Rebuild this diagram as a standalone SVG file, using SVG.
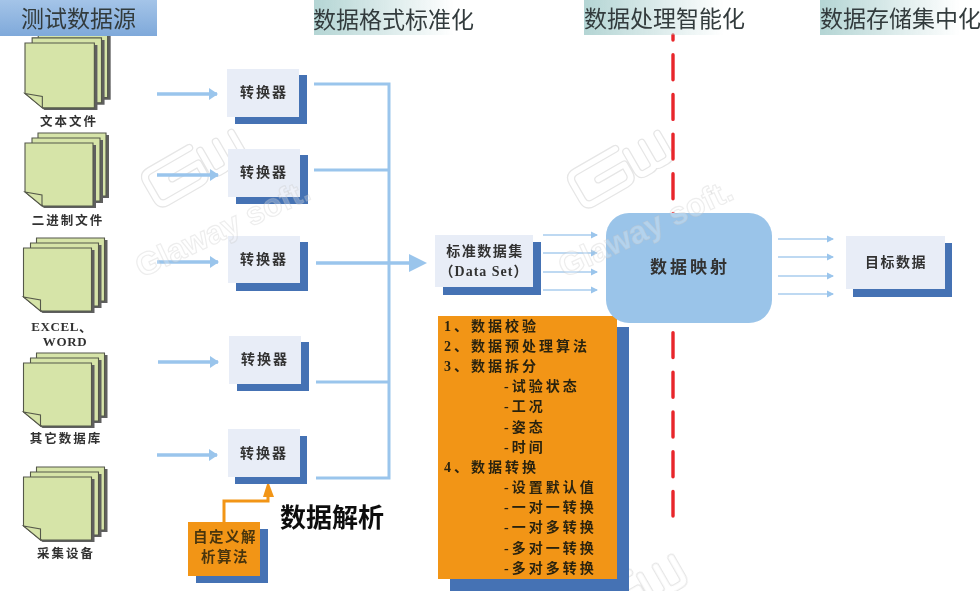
<svg xmlns="http://www.w3.org/2000/svg" xmlns:xlink="http://www.w3.org/1999/xlink" width="980" height="591" viewBox="0 0 980 591">
<style>
text{font-family:"Liberation Serif","Noto Sans CJK SC",sans-serif;dominant-baseline:central;}
.hd{font-family:"Noto Sans CJK SC",sans-serif;font-size:23px;fill:#333b3c;}
.lb{font-size:12.5px;font-weight:700;fill:#333;text-anchor:middle;letter-spacing:2px;}
.cv{font-size:14px;font-weight:700;fill:#333;text-anchor:middle;letter-spacing:2px;}
.ol{font-size:14px;font-weight:700;fill:#2b2411;letter-spacing:3px;}
.sh{fill:#4472B4;}
.lt{fill:#E8EDF7;}
.or{fill:#F29516;}
.bus{fill:none;stroke:#9AC5EC;stroke-width:3;}
.thick{fill:none;stroke:#9AC5EC;stroke-width:3.5;marker-end:url(#ah);}
.thin{fill:none;stroke:#A9CDEE;stroke-width:1.4;marker-end:url(#at);}
.wm{font-family:"Liberation Sans",sans-serif;font-weight:700;font-size:32px;fill:#fff;fill-opacity:.25;stroke:#c4c4c4;stroke-opacity:.3;stroke-width:1.2;}
.sheet{fill:#D6E4A8;stroke:#55584a;stroke-width:1.1;}
.drop{fill:#5f5f5f;}
.fold{fill:#D6E4A8;stroke:#55584a;stroke-width:1.1;}
.lo{fill:none;stroke:#e6e6e6;stroke-width:8;stroke-linejoin:round;stroke-linecap:round;}
.li{fill:none;stroke:#fff;stroke-width:5.500;stroke-linejoin:round;stroke-linecap:round;}
</style>
<defs>
<filter id="soft" x="0" y="0" width="100%" height="100%"><feGaussianBlur stdDeviation="0.45"/></filter>
<linearGradient id="gb" x1="0" y1="0" x2="0" y2="1"><stop offset="0" stop-color="#A4C4E8"/><stop offset="1" stop-color="#7FA9DA"/></linearGradient>
<linearGradient id="gt" x1="0" y1="0" x2="1" y2="0"><stop offset="0" stop-color="#B4D5D4"/><stop offset="1" stop-color="#B4D5D4" stop-opacity="0"/></linearGradient>
<marker id="ah" markerUnits="userSpaceOnUse" markerWidth="10" markerHeight="14" refX="8" refY="6" orient="auto" overflow="visible"><path d="M0 0L9 6L0 12Z" fill="#9AC5EC"/></marker>
<marker id="at" markerUnits="userSpaceOnUse" markerWidth="9" markerHeight="10" refX="6" refY="3.500" orient="auto" overflow="visible"><path d="M0 0L7 3.500L0 7Z" fill="#9AC5EC"/></marker>
<path id="mark" d="M58 -36H12Q4 -36 4 -28V-8Q4 0 12 0H50Q58 0 58 -8V-18H28M66 -28V-6Q66 0 72 0H78Q84 0 84 -6V-28M84 -6Q84 0 90 0H96Q102 0 102 -6V-28"/>
<g id="logo"><use xlink:href="#mark" href="#mark" class="lo"/><use xlink:href="#mark" href="#mark" class="li"/></g>
<g id="s">
<path class="drop" d="M3 2H71V65H19L3 52Z"/>
<path class="sheet" d="M0 0H68V63H18L0 49Z"/>
<path class="fold" d="M0 49L17 52V63Z"/>
</g>
<g id="stack">
<use xlink:href="#s" href="#s" x="13" y="-10"/>
<use xlink:href="#s" href="#s" x="7" y="-5"/>
<use xlink:href="#s" href="#s"/>
</g>
</defs>
<rect width="980" height="591" fill="#fff"/>
<g filter="url(#soft)">
<g id="watermark-logos">
<use xlink:href="#logo" href="#logo" transform="translate(157 208) rotate(-30)"/>
<use xlink:href="#logo" href="#logo" transform="translate(583 209) rotate(-30)"/>
<use xlink:href="#logo" href="#logo" transform="translate(597 633) rotate(-30)"/>
</g>

<g id="connectors">
<path class="bus" d="M314 84H389V478H316M314 170H389M316 382H389"/>
<path class="thick" d="M157 94H217"/>
<path class="thick" d="M157 175H218"/>
<path class="thick" d="M157 262H218"/>
<path class="thick" d="M158 362H218"/>
<path class="thick" d="M157 455H217"/>
<path d="M316 263H412" fill="none" stroke="#9AC5EC" stroke-width="3.5"/>
<path d="M409 254L427 263L409 272Z" fill="#9AC5EC"/>
<path class="thin" d="M543 235H597"/>
<path class="thin" d="M543 253H597"/>
<path class="thin" d="M543 272H597"/>
<path class="thin" d="M543 290H597"/>
<path class="thin" d="M778 239H833"/>
<path class="thin" d="M778 257H833"/>
<path class="thin" d="M778 276H833"/>
<path class="thin" d="M778 294H833"/>
<path d="M673 35V516" fill="none" stroke="#E8262C" stroke-width="3.4" stroke-linecap="round" stroke-dasharray="25 14.7" stroke-dashoffset="20"/>
<path d="M224 522V501H268V495" fill="none" stroke="#F29516" stroke-width="3"/>
<path d="M263 497H274L268 481Z" fill="#F29516"/>
</g>

<g id="file-text"><use xlink:href="#stack" href="#stack" transform="translate(25 43) scale(1.02 1.03)"/><text class="lb" x="69" y="122">文本文件</text></g>
<g id="file-binary"><use xlink:href="#stack" href="#stack" transform="translate(25 143)"/><text class="lb" x="68" y="221">二进制文件</text></g>
<g id="file-excel"><use xlink:href="#stack" href="#stack" transform="translate(23.500 248)"/><text class="lb" x="62" y="326" style="font-size:13px;letter-spacing:.6px">EXCEL、</text><text class="lb" x="65" y="341" style="font-size:13px;letter-spacing:.6px">WORD</text></g>
<g id="file-db"><use xlink:href="#stack" href="#stack" transform="translate(23.500 363)"/><text class="lb" x="66" y="439">其它数据库</text></g>
<g id="file-device"><use xlink:href="#stack" href="#stack" transform="translate(23.500 477)"/><text class="lb" x="66" y="554">采集设备</text></g>

<g id="head-source"><rect x="0" y="0" width="157" height="36" fill="url(#gb)"/><text class="hd" x="21" y="16.500">测试数据源</text></g>
<g id="head-format"><rect x="314" y="0" width="140" height="35" fill="url(#gt)"/><text class="hd" x="313" y="18">数据格式标准化</text></g>
<g id="head-process"><rect x="584" y="0" width="140" height="35" fill="url(#gt)"/><text class="hd" x="584" y="16.500">数据处理智能化</text></g>
<g id="head-store"><rect x="820" y="0" width="140" height="35" fill="url(#gt)"/><text class="hd" x="820" y="16.500">数据存储集中化</text></g>

<g id="conv1"><rect class="sh" x="235" y="75" width="72" height="49"/><rect class="lt" x="227" y="69" width="72" height="48"/><text class="cv" x="264" y="92">转换器</text></g>
<g id="conv2"><rect class="sh" x="236" y="155" width="72" height="49"/><rect class="lt" x="228" y="149" width="72" height="48"/><text class="cv" x="264" y="172">转换器</text></g>
<g id="conv3"><rect class="sh" x="236" y="242" width="72" height="49"/><rect class="lt" x="228" y="236" width="72" height="47"/><text class="cv" x="264" y="259">转换器</text></g>
<g id="conv4"><rect class="sh" x="237" y="342" width="72" height="49"/><rect class="lt" x="229" y="336" width="72" height="48"/><text class="cv" x="265" y="359">转换器</text></g>
<g id="conv5"><rect class="sh" x="235" y="436" width="72" height="48"/><rect class="lt" x="228" y="429" width="72" height="48"/><text class="cv" x="264" y="453">转换器</text></g>

<g id="custom"><rect class="sh" x="196" y="529" width="72" height="54"/><rect class="or" x="188" y="522" width="72" height="54"/><text class="cv" x="225" y="537" style="font-size:14.500px;font-weight:700;fill:#4a3610;letter-spacing:1.500px">自定义解</text><text class="cv" x="225" y="557" style="font-size:14.500px;font-weight:700;fill:#4a3610;letter-spacing:1.500px">析算法</text></g>
<g id="parse"><text x="280" y="515" style="font-family:'Noto Sans CJK SC',sans-serif;font-size:26px;font-weight:700;fill:#111">数据解析</text></g>

<g id="dataset"><rect class="sh" x="443" y="242" width="98" height="53"/><rect class="lt" x="435" y="235" width="98" height="52"/><text class="cv" x="485" y="251" style="letter-spacing:1.500px">标准数据集</text><text class="cv" x="484" y="271" style="font-size:14px;letter-spacing:1px">（Data Set）</text></g>

<g id="steps"><rect class="sh" x="450" y="327" width="179" height="264"/><rect class="or" x="438" y="316" width="179" height="263"/>
<text class="ol" x="444" y="326">1、</text><text class="ol" x="471" y="326">数据校验</text>
<text class="ol" x="444" y="346">2、</text><text class="ol" x="471" y="346">数据预处理算法</text>
<text class="ol" x="444" y="366">3、</text><text class="ol" x="471" y="366">数据拆分</text>
<text class="ol" x="504" y="386">-试验状态</text>
<text class="ol" x="504" y="406">-工况</text>
<text class="ol" x="504" y="427">-姿态</text>
<text class="ol" x="504" y="447">-时间</text>
<text class="ol" x="444" y="467">4、</text><text class="ol" x="471" y="467">数据转换</text>
<text class="ol" x="504" y="487">-设置默认值</text>
<text class="ol" x="504" y="507">-一对一转换</text>
<text class="ol" x="504" y="527">-一对多转换</text>
<text class="ol" x="504" y="548">-多对一转换</text>
<text class="ol" x="504" y="568">-多对多转换</text>
</g>

<g id="mapping"><rect x="606" y="213" width="166" height="110" rx="23" fill="#9AC4E9"/><text class="cv" x="690" y="267" style="font-size:17px;letter-spacing:3px">数据映射</text></g>
<g id="target"><rect class="sh" x="853" y="243" width="99" height="54"/><rect class="lt" x="846" y="236" width="99" height="53"/><text class="cv" x="896" y="262" style="letter-spacing:1.500px">目标数据</text></g>

<g id="watermark-text">
<text class="wm" transform="translate(137 268) rotate(-25)">Glaway soft.</text>
<text class="wm" transform="translate(560 268) rotate(-25)">Glaway soft.</text>
</g>
</g>
</svg>
